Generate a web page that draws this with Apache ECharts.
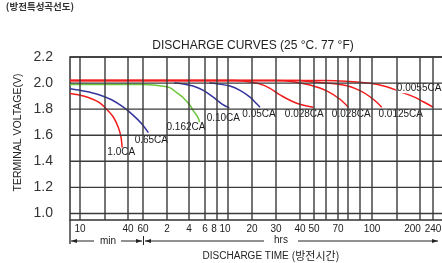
<!DOCTYPE html>
<html><head><meta charset="utf-8">
<script src="https://cdn.jsdelivr.net/npm/echarts@6/dist/echarts.min.js"></script>
<style>html,body{margin:0;padding:0;background:#fff}#c{width:442px;height:263px}</style>
</head><body><div id="c"></div>
<script>
// Printed (non-uniform) time scale of the original chart: tick times in minutes and their scale divisions
const scaleTickMinutes   = [7.5, 10, 20, 40, 60, 120, 240, 360, 480, 600, 1200, 1800, 2400, 3000, 3600, 4200, 4800, 5400, 6000, 9000, 12000, 14400];
const scaleTickDivisions = [0, 10, 35, 58, 73, 97, 119, 135, 147, 158, 182, 206, 230, 244, 256, 268, 278, 290, 302, 327, 350, 363];
const scaleTickLabels    = ['', '10', '', '40', '60', '2', '4', '6', '8', '10', '20', '30', '40', '50', '', '70', '', '', '100', '', '200', '240'];
const voltageTicks = [1.0, 1.2, 1.4, 1.6, 1.8, 2.0, 2.2];

// Discharge curves: time (minutes) and terminal voltage (V)
const c1Name = '1.0CA',    c1Min = [7.5, 9.5, 12.6, 16.6, 21, 25.7, 29.9, 32.4, 33.6],            c1Volt = [1.92, 1.91, 1.89, 1.855, 1.80, 1.74, 1.66, 1.585, 1.49];
const c2Name = '0.65CA',   c2Min = [7.5, 11.5, 16.6, 24.4, 34.8, 46.2, 57.9, 70],                  c2Volt = [1.957, 1.938, 1.913, 1.872, 1.815, 1.752, 1.688, 1.62];
const c3Name = '0.162CA',  c3Min = [7.5, 60, 73, 98, 131, 164, 198, 246, 266, 302, 317],           c3Volt = [1.99, 1.99, 1.988, 1.98, 1.965, 1.925, 1.89, 1.83, 1.79, 1.735, 1.685];
const c4Name = '0.10CA',   c4Min = [150, 191, 266, 345, 439, 528, 623],                            c4Volt = [2.0, 1.995, 1.977, 1.944, 1.892, 1.841, 1.81];
const c5Name = '0.05CA',   c5Min = [400, 477, 635, 849, 1132, 1300, 1374],                         c5Volt = [2.0, 1.995, 1.977, 1.944, 1.892, 1.841, 1.815];
const c6Name = '0.028CA',  c6Min = [7.5, 734, 933, 1374, 1627, 1888, 2308, 2967],                  c6Volt = [2.02, 2.02, 2.015, 1.993, 1.96, 1.909, 1.845, 1.815];
const c7Name = '0.028CA',  c7Min = [7.5, 1770, 2214, 2815, 3609, 4313, 4814],                      c7Volt = [2.02, 2.02, 2.011, 1.985, 1.942, 1.876, 1.815];
const c8Name = '0.0125CA', c8Min = [7.5, 2400, 2528, 4508, 5400, 6127, 7024],                      c8Volt = [2.02, 2.02, 2.016, 1.985, 1.942, 1.876, 1.815];
const c9Name = '0.0055CA', c9Min = [7.5, 3609, 5895, 7612, 9340, 11034, 12564, 14420],             c9Volt = [2.02, 2.02, 1.998, 1.972, 1.934, 1.896, 1.857, 1.815];

// map a time in minutes onto the printed scale (log-interpolated between printed ticks)
function toScale(min) {
  const T = scaleTickMinutes, D = scaleTickDivisions;
  let i = 0;
  while (i < T.length - 2 && min > T[i + 1]) i++;
  const f = Math.log(min / T[i]) / Math.log(T[i + 1] / T[i]);
  return D[i] + f * (D[i + 1] - D[i]);
}

const RED = '#f21c1c', BLUE = '#34349e', GREEN = '#6cc63a';
const FONT = '"Liberation Sans", Arial, sans-serif';
const KFONT = '"Noto Sans CJK KR", "Noto Sans", sans-serif';
const X_MIN = 0, X_MAX = 392, Y_MIN = 0.95, Y_MAX = 2.2;

const curves = [
  { name: c1Name, t: c1Min, v: c1Volt, color: RED,   off: [-1, 3] },
  { name: c2Name, t: c2Min, v: c2Volt, color: BLUE,  off: [3, 8] },
  { name: c3Name, t: c3Min, v: c3Volt, color: GREEN, off: [-14, 3] },
  { name: c4Name, t: c4Min, v: c4Volt, color: BLUE,  off: [-6, 10] },
  { name: c5Name, t: c5Min, v: c5Volt, color: BLUE,  off: [-1, 7] },
  { name: c6Name, t: c6Min, v: c6Volt, color: RED,   off: [-9, 7] },
  { name: c7Name, t: c7Min, v: c7Volt, color: RED,   off: [3, 7] },
  { name: c8Name, t: c8Min, v: c8Volt, color: RED,   off: [19, 7] },
  { name: c9Name, t: c9Min, v: c9Volt, color: RED,   off: [-14, -19] }
];

const gridDivs = scaleTickDivisions.slice(1);
const labelMap = new Map();
const labelDivs = [];
scaleTickDivisions.forEach((d, i) => { if (scaleTickLabels[i]) { labelMap.set(d, scaleTickLabels[i]); labelDivs.push(d); } });
// crowded labels are nudged left in the original print
const labelNudge = { '8': 6, '10h': 6, '200': 15 };

const series = curves.map((c, k) => ({
  type: 'line',
  name: c.name + '_' + k,
  data: c.t.map((m, i) => [toScale(m), c.v[i]]),
  showSymbol: false,
  symbol: 'none',
  smooth: 0.35,
  z: c.color === RED ? 5 : 4,
  lineStyle: { color: c.color, width: 1.5 },
  endLabel: {
    show: true, formatter: c.name, distance: 0,
    align: 'center', verticalAlign: 'middle', offset: c.off,
    fontSize: 10, fontFamily: FONT, color: '#1a1a1a',
    backgroundColor: '#fff', padding: [0, 1], lineHeight: 10
  },
  emphasis: { disabled: true }
}));

const arrowY = 241;
const ink = '#222';
const graphic = [
  { type: 'text', x: 40, y: 6, style: { text: '(방전특성곡선도)', fontSize: 9.5, fontWeight: 'bold', fontFamily: KFONT, fill: '#333', align: 'center', verticalAlign: 'middle' } },
  { type: 'text', x: 253, y: 46, style: { text: 'DISCHARGE CURVES (25 °C. 77 °F)', fontSize: 12, fontFamily: FONT, fill: '#222', align: 'center', verticalAlign: 'middle' } },
  { type: 'text', x: 18, y: 132.5, rotation: Math.PI / 2, style: { text: 'TERMINAL VOLTAGE(V)', fontSize: 10.5, fontFamily: FONT, fill: '#222', align: 'center', verticalAlign: 'middle' } },
  { type: 'text', x: 271, y: 256, style: { text: '{a|DISCHARGE TIME }{b|(방전시간)}', align: 'center', verticalAlign: 'middle',
      rich: { a: { fontSize: 10, fontFamily: FONT, fill: '#222' }, b: { fontSize: 11, fontFamily: KFONT, fill: '#222' } } } },
  { type: 'line', shape: { x1: 70, y1: 220, x2: 70, y2: 244 }, style: { stroke: ink, lineWidth: 1.3 } },
  { type: 'line', shape: { x1: 71, y1: arrowY, x2: 94, y2: arrowY }, style: { stroke: ink, lineWidth: 1 } },
  { type: 'polygon', shape: { points: [[71, arrowY], [77, arrowY - 2], [77, arrowY + 2]] }, style: { fill: ink } },
  { type: 'text', x: 108, y: arrowY, style: { text: 'min', fontSize: 10, fontFamily: FONT, fill: ink, align: 'center', verticalAlign: 'middle' } },
  { type: 'line', shape: { x1: 121, y1: arrowY, x2: 142, y2: arrowY }, style: { stroke: ink, lineWidth: 1 } },
  { type: 'polygon', shape: { points: [[142, arrowY], [136, arrowY - 2], [136, arrowY + 2]] }, style: { fill: ink } },
  { type: 'line', shape: { x1: 143.5, y1: 236, x2: 143.5, y2: 245 }, style: { stroke: ink, lineWidth: 1 } },
  { type: 'polygon', shape: { points: [[145, arrowY], [151, arrowY - 2], [151, arrowY + 2]] }, style: { fill: ink } },
  { type: 'line', shape: { x1: 145, y1: arrowY, x2: 264, y2: arrowY }, style: { stroke: ink, lineWidth: 1 } },
  { type: 'text', x: 281, y: 240, style: { text: 'hrs', fontSize: 10, fontFamily: FONT, fill: ink, align: 'center', verticalAlign: 'middle' } },
  { type: 'line', shape: { x1: 298, y1: arrowY, x2: 438, y2: arrowY }, style: { stroke: ink, lineWidth: 1 } },
  { type: 'polygon', shape: { points: [[438, arrowY], [432, arrowY - 2], [432, arrowY + 2]] }, style: { fill: ink } }
];

const chart = echarts.init(document.getElementById('c'), null, { renderer: 'canvas' });
chart.setOption({
  animation: false,
  backgroundColor: '#fff',
  grid: { left: 70, right: -20, top: 57, bottom: 43, containLabel: false, outerBoundsMode: 'none',
          show: true, borderColor: '#333', borderWidth: 1.5, backgroundColor: 'rgba(0,0,0,0)' },
  xAxis: {
    type: 'value', min: X_MIN, max: X_MAX,
    axisLine: { show: false },
    axisTick: { show: false },
    splitLine: { show: false },
    axisLabel: {
      customValues: labelDivs, hideOverlap: false, showMaxLabel: true,
      formatter: v => {
        const s = labelMap.get(v) || '';
        const key = (s === '10' && v > 100) ? '10h' : s;
        return labelNudge[key] ? '{n' + labelNudge[key] + '|' + s + '}' : s;
      },
      rich: {
        n6: { padding: [0, 6, 0, 0], fontSize: 10, fontFamily: FONT, color: '#222' },
        n15: { padding: [0, 15, 0, 0], fontSize: 10, fontFamily: FONT, color: '#222' }
      },
      fontSize: 10, fontFamily: FONT, color: '#222', margin: 4
    }
  },
  yAxis: {
    type: 'value', min: Y_MIN, max: Y_MAX,
    axisLine: { show: false },
    axisTick: { show: false },
    splitLine: { show: false },
    axisLabel: { customValues: voltageTicks, formatter: v => v.toFixed(1), fontSize: 14, fontFamily: FONT, color: '#333', margin: 17 }
  },
  series: series,
  graphic: graphic
});

// grid lines of the printed scale, placed through the chart's own axes (convertToPixel)
const gridLines = [];
const pushLine = (p, q) => {
  if (!p || !q || [p[0], p[1], q[0], q[1]].some(n => !isFinite(n))) return;
  gridLines.push({ type: 'line', silent: true, z: 100,
    shape: { x1: p[0], y1: p[1], x2: q[0], y2: q[1] },
    style: { stroke: '#3a3a3a', lineWidth: 1.4 } });
};
gridDivs.forEach(d => pushLine(chart.convertToPixel({ gridIndex: 0 }, [d, Y_MIN]), chart.convertToPixel({ gridIndex: 0 }, [d, Y_MAX])));
voltageTicks.forEach(v => pushLine(chart.convertToPixel({ gridIndex: 0 }, [X_MIN, v]), chart.convertToPixel({ gridIndex: 0 }, [X_MAX, v])));
chart.setOption({ graphic: graphic.concat(gridLines) });
</script></body></html>
